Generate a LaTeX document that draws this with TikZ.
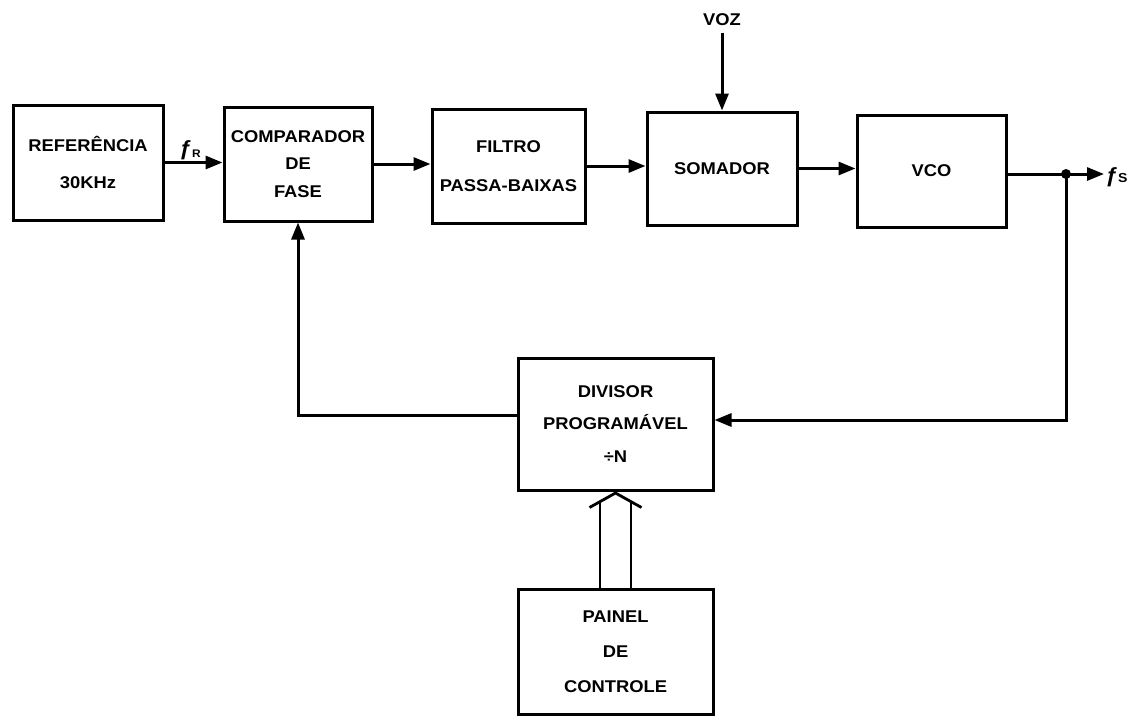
\documentclass[tikz,border=0pt]{standalone}
\usepackage{fontspec}
\setmainfont{Liberation Sans}[FakeStretch=1.08]
\usetikzlibrary{arrows.meta,calc}
\begin{document}
\begin{tikzpicture}[x=1pt,y=-1pt,
  line width=3pt,
  blk/.style={draw,rectangle,align=center,inner sep=0pt,
    font=\bfseries\fontsize{17}{#1}\selectfont},
  blk/.default=27,
  tip/.style={-{Triangle[length=17pt,width=13pt]}},
  lbl/.style={font=\bfseries\fontsize{17}{20}\selectfont,inner sep=0pt}]
\useasboundingbox (0,0) rectangle (1142,718);
\node[blk=37,minimum width=150pt,minimum height=115pt] (ref) at (88,162.5) {REFERÊNCIA\\30KHz};
\node[blk=27.5,minimum width=148pt,minimum height=114pt] (comp) at (298,164) {COMPARADOR\\DE\\FASE};
\node[blk=39,minimum width=153pt,minimum height=114pt] (filt) at (508.5,166) {FILTRO\\PASSA-BAIXAS};
\node[blk,minimum width=150pt,minimum height=113pt] (soma) at (722,168.5) {SOMADOR};
\node[blk,minimum width=149pt,minimum height=112pt] (vco) at (931.5,171) {VCO};
\node[blk=32.5,minimum width=195pt,minimum height=132pt] (div) at (615.5,424) {DIVISOR\\PROGRAMÁVEL\\÷N};
\node[blk=35,minimum width=195pt,minimum height=125pt] (pan) at (615.5,651.5) {PAINEL\\DE\\CONTROLE};
\node[lbl] (voz) at (722,20) {VOZ};
\node[lbl,anchor=base] (fr) at (190,155) {\fontsize{21}{21}\selectfont ƒ\raisebox{-2pt}{\fontsize{11}{11}\selectfont R}};
\coordinate (j) at (1066,174);
\coordinate (out) at (1104,174);
\node[lbl,anchor=west] (fs) at (1104,177) {\fontsize{21}{21}\selectfont ƒ{\fontsize{13}{13}\selectfont S}};
% forward path
\draw[tip] (ref.east) -- (ref.east -| comp.west);
\draw[tip] (comp.east) -- (comp.east -| filt.west);
\draw[tip] (filt.east) -- (filt.east -| soma.west);
\draw[tip] (soma.east) -- (soma.east -| vco.west);
\draw (vco.east |- j) -- (j);
\draw[tip] (j) -- (out);
\fill (j) circle (5pt);
\draw[tip] (voz.south) ++(0,5) -- (soma.north);
% feedback
\draw[tip] (j) |- ($(div.east)+(0,-4)$);
\draw[tip] ($(div.west)+(0,-9)$) -| (comp.south);
% control bus
\coordinate (bl) at ($(pan.north)+(-15.5,0)$);
\coordinate (br) at ($(pan.north)+(15.5,0)$);
\draw[line width=2.8pt] (bl) -- (bl |- {$(div.south)+(0,9)$});
\draw[line width=2.8pt] (br) -- (br |- {$(div.south)+(0,9)$});
\draw[line width=2.8pt,line join=miter] ($(div.south)+(-26,16)$) -- ($(div.south)+(0,1.5)$) -- ($(div.south)+(26,16)$);
\end{tikzpicture}
\end{document}
